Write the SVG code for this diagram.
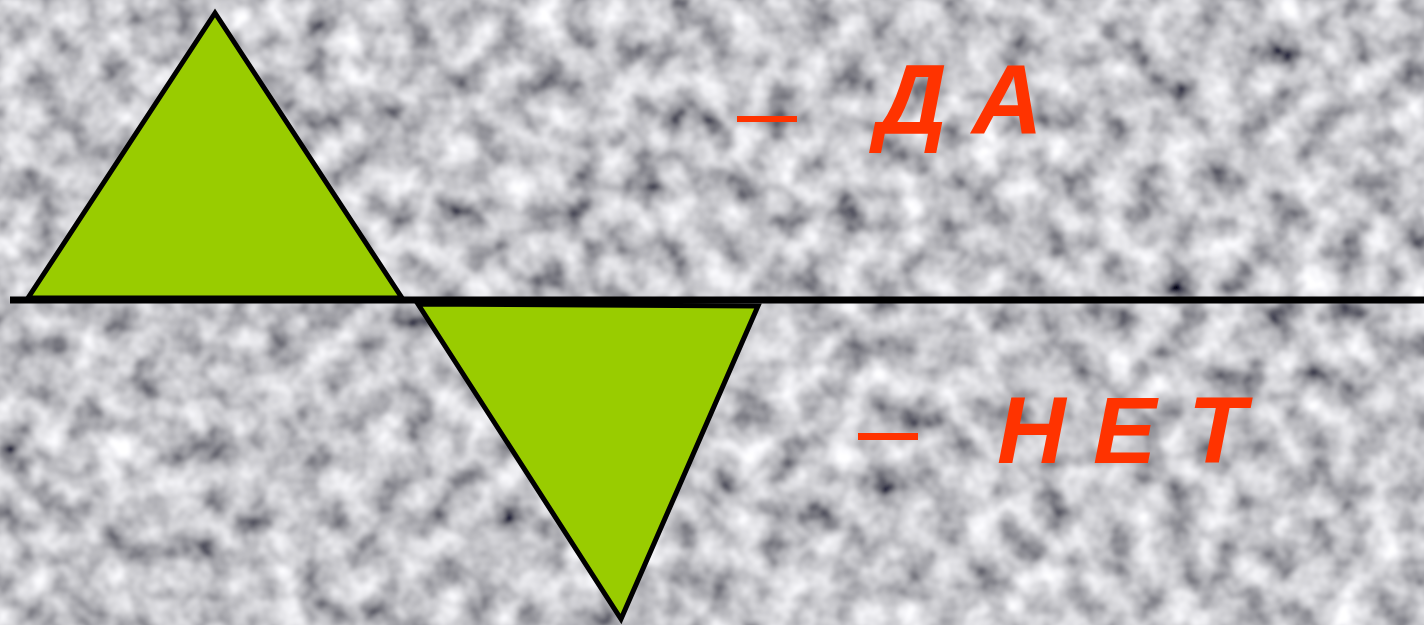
<svg xmlns="http://www.w3.org/2000/svg" width="1424" height="625" viewBox="0 0 1424 625">
  <defs>
    <filter id="noise" x="-20" y="-20" width="1464" height="665" filterUnits="userSpaceOnUse">
      <feTurbulence type="fractalNoise" baseFrequency="0.03" numOctaves="3" seed="7" result="t"/>
      <feColorMatrix in="t" type="matrix" values="1.35 0 0 0 -0.12  1.35 0 0 0 -0.12  1.35 0 0 0 -0.09  0 0 0 0 1" result="c"/>
      <feGaussianBlur in="c" stdDeviation="1.8"/>
    </filter>
    <style>
      .tri { fill: #99cc00; stroke: #000000; stroke-width: 5; stroke-linejoin: miter; }
      .lbl { font-family: "Liberation Sans", Arial, sans-serif; font-weight: bold; font-style: italic; fill: #ff3300; }
      .axis { stroke: #000000; stroke-width: 7; }
    </style>
  </defs>
  <rect x="0" y="0" width="1424" height="625" fill="#a8a8ae"/>
  <rect x="-20" y="-20" width="1464" height="665" filter="url(#noise)"/>

  <g id="up-triangle">
    <polygon class="tri" points="215,13 28,298 402,298"/>
  </g>
  <g id="down-triangle">
    <polygon class="tri" points="418,304 758,306 621,619"/>
  </g>
  <g id="connectors">
    <line class="axis" x1="10" y1="300" x2="1424" y2="300"/>
  </g>
  <g id="label-da">
    <rect x="737" y="116" width="60" height="6" fill="#ff3300"/>
    <text class="lbl" font-size="98" y="133"><tspan x="876">Д</tspan><tspan x="972">А</tspan></text>
  </g>
  <g id="label-net">
    <rect x="858" y="433" width="60" height="7" fill="#ff3300"/>
    <text class="lbl" font-size="95" y="463"><tspan x="997">Н</tspan><tspan x="1093">Е</tspan><tspan x="1188">Т</tspan></text>
  </g>
</svg>
